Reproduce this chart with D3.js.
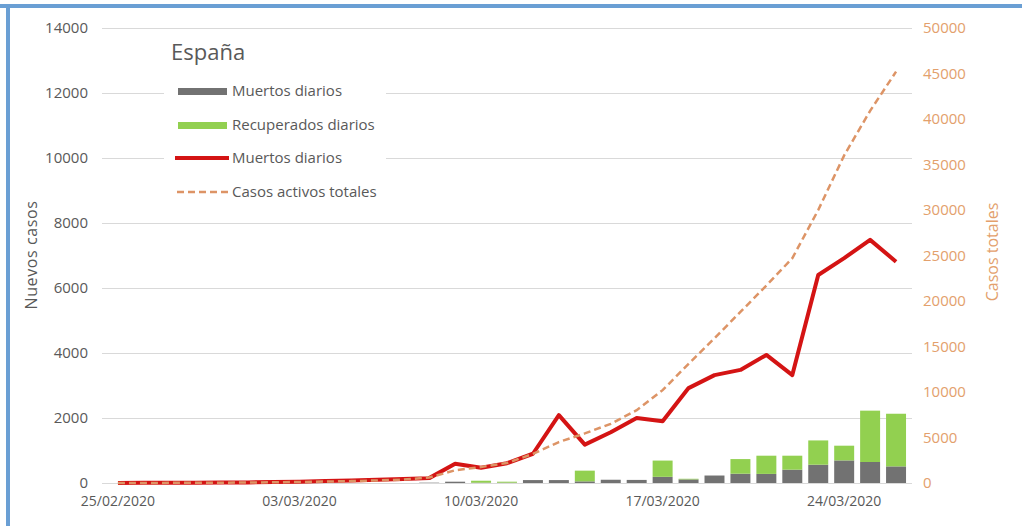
<!DOCTYPE html>
<html><head><meta charset="utf-8">
<script src="https://cdn.jsdelivr.net/npm/d3@7"></script>
<style>
body{margin:0;background:#fff;}
svg{display:block;font-family:"Open Sans",sans-serif;}
</style></head>
<body><svg id="c" width="1022" height="526"></svg>
<script>
const dates = ["25/02/2020","26/02/2020","27/02/2020","28/02/2020","29/02/2020","01/03/2020","02/03/2020","03/03/2020","04/03/2020","05/03/2020","06/03/2020","07/03/2020","08/03/2020","09/03/2020","10/03/2020","11/03/2020","12/03/2020","13/03/2020","14/03/2020","15/03/2020","16/03/2020","17/03/2020","18/03/2020","19/03/2020","20/03/2020","21/03/2020","22/03/2020","23/03/2020","24/03/2020","25/03/2020","26/03/2020"];
const muertosBar = [0,0,0,0,0,0,0,0,0,0,0,0,10,40,10,10,90,90,50,100,95,190,110,230,286,280,410,563,695,646,511];
const recuperadosBar = [0,0,0,0,0,0,0,0,0,0,0,0,0,0,60,30,0,0,330,0,0,500,20,0,450,560,430,747,453,1580,1620];
const nuevosLine = [2,5,8,10,12,18,30,40,60,80,100,120,150,590,470,610,900,2090,1180,1560,2000,1900,2920,3320,3480,3940,3320,6400,6920,7480,6810];
const activosLine = [5,10,15,25,35,50,80,110,160,210,280,380,600,1400,1760,2200,3200,4500,5450,6500,8000,10200,13100,15900,18800,21700,24700,30000,36000,40900,45200];
const leftTicks = [0,2000,4000,6000,8000,10000,12000,14000];
const rightTicks = [0,5000,10000,15000,20000,25000,30000,35000,40000,45000,50000];
const xTickLabels = ["25/02/2020","03/03/2020","10/03/2020","17/03/2020","24/03/2020"];
const legendLabels = ["Muertos diarios","Recuperados diarios","Muertos diarios","Casos activos totales"];

const svg = d3.select("#c");
const L = 102, R = 912, T = 28, B = 483;
const cGray = "#727272", cGreen = "#92d050", cRed = "#d41414", cDash = "#dd9466", cRightTxt = "#e3a06c", cTxt = "#595959";

svg.append("rect").attr("width",1022).attr("height",526).attr("fill","#fff");

const x = d3.scaleBand().domain(dates).range([L,R]).padding(0.23);
const xc = d => x(d) + x.bandwidth()/2;
const yL = d3.scaleLinear().domain([0,14000]).range([B,T]);
const yR = d3.scaleLinear().domain([0,50000]).range([B,T]);

// gridlines
const grid = svg.append("g").attr("transform",`translate(${L},0)`)
  .call(d3.axisLeft(yL).tickValues(leftTicks).tickSize(-(R-L)).tickFormat(""));
grid.select(".domain").remove();
grid.selectAll("line").attr("stroke","#d9d9d9").attr("stroke-width",1);

// left axis labels
const ax = svg.append("g").attr("transform",`translate(${L},0)`)
  .call(d3.axisLeft(yL).tickValues(leftTicks).tickSize(0).tickPadding(14).tickFormat(d3.format("d")));
ax.select(".domain").remove();
ax.selectAll("text").attr("fill",cTxt).style("font-size","15px").style("font-family","'Open Sans',sans-serif");

// right axis labels
const axr = svg.append("g").attr("transform",`translate(${R},0)`)
  .call(d3.axisRight(yR).tickValues(rightTicks).tickSize(0).tickPadding(11).tickFormat(d3.format("d")));
axr.select(".domain").remove();
axr.selectAll("text").attr("fill",cRightTxt).style("font-size","15px").style("font-family","'Open Sans',sans-serif");

// bottom axis
const axb = svg.append("g").attr("transform",`translate(0,${B})`)
  .call(d3.axisBottom(x).tickValues(xTickLabels).tickSize(0).tickPadding(13));
axb.select(".domain").remove();
axb.selectAll("text").attr("fill",cTxt).style("font-size","14px").style("font-family","'Open Sans',sans-serif");

// stacked bars
const stackData = dates.map((d,i)=>({date:d, muertos:muertosBar[i], recuperados:recuperadosBar[i]}));
const series = d3.stack().keys(["muertos","recuperados"])(stackData);
const colors = {muertos:cGray, recuperados:cGreen};
svg.append("g").selectAll("g").data(series).join("g").attr("fill",s=>colors[s.key])
  .selectAll("rect").data(s=>s).join("rect")
  .attr("x",d=>x(d.data.date)).attr("width",x.bandwidth())
  .attr("y",d=>yL(d[1])).attr("height",d=>yL(d[0])-yL(d[1]));

// lines
const lineL = d3.line().x((d,i)=>xc(dates[i])).y(d=>yL(d));
const lineR = d3.line().x((d,i)=>xc(dates[i])).y(d=>yR(d));
svg.append("path").datum(nuevosLine).attr("d",lineL).attr("fill","none")
  .attr("stroke",cRed).attr("stroke-width",4).attr("stroke-linejoin","round");
svg.append("path").datum(activosLine).attr("d",lineR).attr("fill","none")
  .attr("stroke",cDash).attr("stroke-width",2.5).attr("stroke-dasharray","7,4");

// legend
const lg = svg.append("g");
lg.append("rect").attr("x",164).attr("y",33).attr("width",222).attr("height",178).attr("fill","#fff");
lg.append("text").attr("x",171).attr("y",60).text("España").attr("fill",cTxt).style("font-size","22px");
const itemY = [91,125,158,192];
legendLabels.forEach((lab,i)=>{
  const yy = itemY[i];
  if(i===0) lg.append("rect").attr("x",178).attr("y",yy-3).attr("width",49).attr("height",7).attr("fill",cGray);
  if(i===1) lg.append("rect").attr("x",178).attr("y",yy-3).attr("width",49).attr("height",7).attr("fill",cGreen);
  if(i===2) lg.append("line").attr("x1",175).attr("x2",229).attr("y1",yy).attr("y2",yy).attr("stroke",cRed).attr("stroke-width",4);
  if(i===3) lg.append("line").attr("x1",177).attr("x2",229).attr("y1",yy).attr("y2",yy).attr("stroke",cDash).attr("stroke-width",2.5).attr("stroke-dasharray","7,4");
  lg.append("text").attr("x",232).attr("y",yy).attr("dy","0.35em").text(lab).attr("fill",cTxt).style("font-size","15px");
});

// axis titles
svg.append("text").attr("transform","translate(31,255) rotate(-90)").attr("text-anchor","middle")
  .attr("dy","0.35em").text("Nuevos casos").attr("fill",cTxt).style("font-size","16px").style("letter-spacing","0.6px");
svg.append("text").attr("transform","translate(992,252) rotate(-90)").attr("text-anchor","middle")
  .attr("dy","0.35em").text("Casos totales").attr("fill",cRightTxt).style("font-size","16px");

// frame border (top and left)
svg.append("rect").attr("x",0).attr("y",4).attr("width",1022).attr("height",4).attr("fill","#6a9fd4");
svg.append("rect").attr("x",6).attr("y",4).attr("width",4).attr("height",522).attr("fill","#6a9fd4");
</script></body></html>
